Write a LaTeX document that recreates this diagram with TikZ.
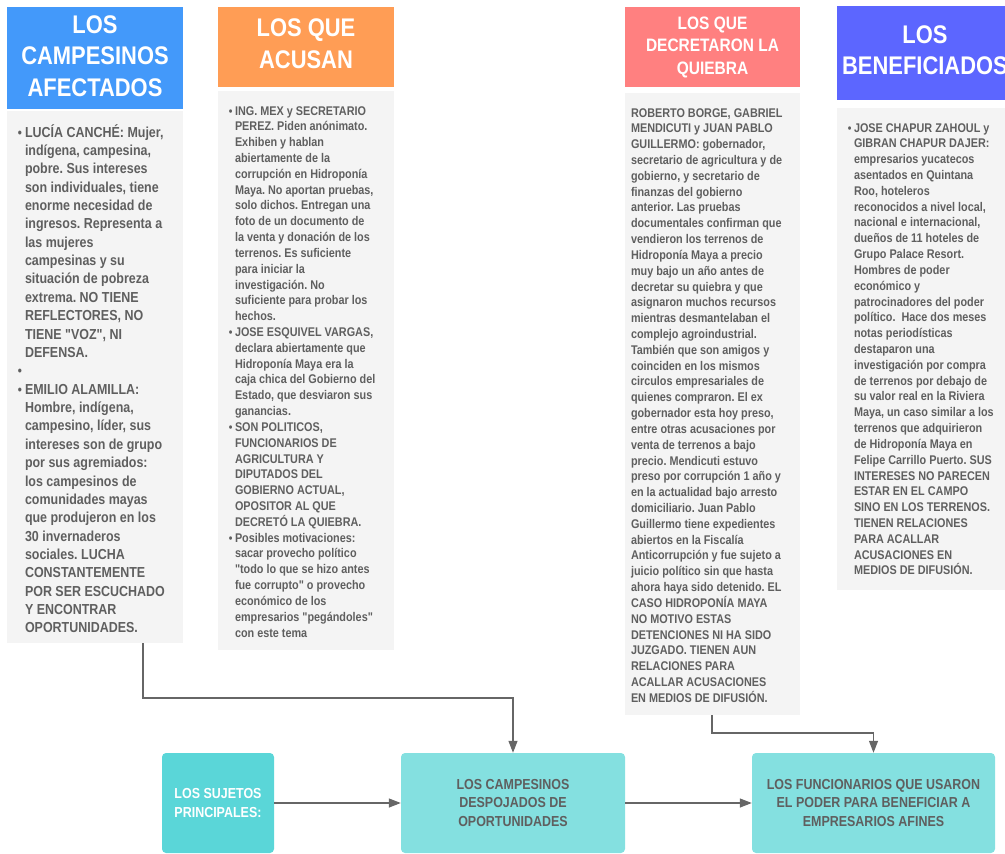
\documentclass[tikz,border=0pt]{standalone}
\usepackage{fontspec}
\setmainfont[FakeStretch=0.86, Ligatures=TeXOff]{Liberation Sans}
\usetikzlibrary{arrows.meta}
\definecolor{hblue}{RGB}{67,153,250}
\definecolor{horange}{RGB}{255,157,85}
\definecolor{hred}{RGB}{255,128,128}
\definecolor{hviolet}{RGB}{92,102,255}
\definecolor{bodyg}{RGB}{244,244,244}
\definecolor{txtg}{RGB}{95,95,95}
\definecolor{tealA}{RGB}{90,214,216}
\definecolor{tealB}{RGB}{132,224,224}
\definecolor{linec}{RGB}{102,102,102}
\frenchspacing
\newcommand{\bulb}{\leavevmode\llap{{\fontsize{13.5}{13.5}\selectfont •}\hspace{3pt}}}
\newcommand{\bul}{\leavevmode\llap{{\fontsize{12}{12}\selectfont •}\hspace{2.5pt}}}
\newcommand{\bigtxt}{\fontsize{14.5}{18.37}\selectfont\bfseries}
\newcommand{\smalltxt}{\fontsize{12.6}{15.82}\selectfont\bfseries}
\tikzset{
  panel/.style={inner sep=0pt, outer sep=0pt, draw=none, anchor=north west},
  txt/.style={inner sep=0pt, outer sep=0pt, anchor=base west, text=txtg},
  htxt/.style={inner sep=0pt, outer sep=0pt, anchor=base, text=white},
  subj/.style={inner sep=0pt, rounded corners=4pt, minimum height=100pt, align=center,
    font=\fontsize{14.5}{18.2}\selectfont\bfseries},
  arr/.style={draw=linec, line width=1.2pt, -{Triangle[length=12pt,width=9pt]}},
}
\begin{document}
\begin{tikzpicture}[x=1pt,y=-1pt]
\useasboundingbox (0,0) rectangle (1005,854);
% column 1
\node[panel, fill=hblue, minimum width=176pt, minimum height=102pt] (h1) at (7,7) {};
\node[panel, fill=bodyg, minimum width=176pt, minimum height=532pt] (b1) at (7,111) {};
\node[htxt] (ht1) at (95,33) {\parbox[t]{200pt}{\centering\fontsize{25.5}{31.5}\selectfont\bfseries LOS\\CAMPESINOS\\AFECTADOS}};
\node[txt] (t1) at (25,137) {\parbox[t]{170pt}{\bigtxt\raggedright
\bulb LUCÍA CANCHÉ: Mujer,\\
indígena, campesina,\\
pobre. Sus intereses\\
son individuales, tiene\\
enorme necesidad de\\
ingresos. Representa a\\
las mujeres\\
campesinas y su\\
situación de pobreza\\
extrema. NO TIENE\\
REFLECTORES, NO\\
TIENE "VOZ", NI\\
DEFENSA.\\
\bulb\\
\bulb EMILIO ALAMILLA:\\
Hombre, indígena,\\
campesino, líder, sus\\
intereses son de grupo\\
por sus agremiados:\\
los campesinos de\\
comunidades mayas\\
que produjeron en los\\
30 invernaderos\\
sociales. LUCHA\\
CONSTANTEMENTE\\
POR SER ESCUCHADO\\
Y ENCONTRAR\\
OPORTUNIDADES.}};
% column 2
\node[panel, fill=horange, minimum width=176pt, minimum height=80pt] (h2) at (218,7) {};
\node[panel, fill=bodyg, minimum width=176pt, minimum height=559pt] (b2) at (218,91) {};
\node[htxt] (ht2) at (306,36) {\parbox[t]{200pt}{\centering\fontsize{25.5}{32}\selectfont\bfseries LOS QUE\\ACUSAN}};
\node[txt] (t2) at (235,115) {\parbox[t]{170pt}{\smalltxt\raggedright
\bul ING. MEX y SECRETARIO\\
PEREZ. Piden anónimato.\\
Exhiben y hablan\\
abiertamente de la\\
corrupción en Hidroponía\\
Maya. No aportan pruebas,\\
solo dichos. Entregan una\\
foto de un documento de\\
la venta y donación de los\\
terrenos. Es suficiente\\
para iniciar la\\
investigación. No\\
suficiente para probar los\\
hechos.\\
\bul JOSE ESQUIVEL VARGAS,\\
declara abiertamente que\\
Hidroponía Maya era la\\
caja chica del Gobierno del\\
Estado, que desviaron sus\\
ganancias.\\
\bul SON POLITICOS,\\
FUNCIONARIOS DE\\
AGRICULTURA Y\\
DIPUTADOS DEL\\
GOBIERNO ACTUAL,\\
OPOSITOR AL QUE\\
DECRETÓ LA QUIEBRA.\\
\bul Posibles motivaciones:\\
sacar provecho político\\
"todo lo que se hizo antes\\
fue corrupto" o provecho\\
económico de los\\
empresarios "pegándoles"\\
con este tema}};
% column 3
\node[panel, fill=hred, minimum width=175pt, minimum height=80pt] (h3) at (625,7) {};
\node[panel, fill=bodyg, minimum width=175pt, minimum height=622pt] (b3) at (625,93) {};
\node[htxt] (ht3) at (712.5,29) {\parbox[t]{200pt}{\centering\fontsize{18}{22.5}\selectfont\bfseries LOS QUE\\DECRETARON LA\\QUIEBRA}};
\node[txt] (t3) at (631,117) {\parbox[t]{170pt}{\smalltxt\raggedright
ROBERTO BORGE, GABRIEL\\
MENDICUTI y JUAN PABLO\\
GUILLERMO: gobernador,\\
secretario de agricultura y de\\
gobierno, y secretario de\\
finanzas del gobierno\\
anterior. Las pruebas\\
documentales confirman que\\
vendieron los terrenos de\\
Hidroponía Maya a precio\\
muy bajo un año antes de\\
decretar su quiebra y que\\
asignaron muchos recursos\\
mientras desmantelaban el\\
complejo agroindustrial.\\
También que son amigos y\\
coinciden en los mismos\\
circulos empresariales de\\
quienes compraron. El ex\\
gobernador esta hoy preso,\\
entre otras acusaciones por\\
venta de terrenos a bajo\\
precio. Mendicuti estuvo\\
preso por corrupción 1 año y\\
en la actualidad bajo arresto\\
domiciliario. Juan Pablo\\
Guillermo tiene expedientes\\
abiertos en la Fiscalía\\
Anticorrupción y fue sujeto a\\
juicio político sin que hasta\\
ahora haya sido detenido. EL\\
CASO HIDROPONÍA MAYA\\
NO MOTIVO ESTAS\\
DETENCIONES NI HA SIDO\\
JUZGADO. TIENEN AUN\\
RELACIONES PARA\\
ACALLAR ACUSACIONES\\
EN MEDIOS DE DIFUSIÓN.}};
% column 4
\node[panel, fill=hviolet, minimum width=176pt, minimum height=94pt] (h4) at (837,6) {};
\node[panel, fill=bodyg, minimum width=176pt, minimum height=482pt] (b4) at (837,108) {};
\node[htxt] (ht4) at (925,43) {\parbox[t]{200pt}{\centering\fontsize{25.5}{31}\selectfont\bfseries LOS\\BENEFICIADOS}};
\node[txt] (t4) at (854,132) {\parbox[t]{170pt}{\smalltxt\raggedright
\bul JOSE CHAPUR ZAHOUL y\\
GIBRAN CHAPUR DAJER:\\
empresarios yucatecos\\
asentados en Quintana\\
Roo, hoteleros\\
reconocidos a nivel local,\\
nacional e internacional,\\
dueños de 11 hoteles de\\
Grupo Palace Resort.\\
Hombres de poder\\
económico y\\
patrocinadores del poder\\
político.\ \ Hace dos meses\\
notas periodísticas\\
destaparon una\\
investigación por compra\\
de terrenos por debajo de\\
su valor real en la Riviera\\
Maya, un caso similar a los\\
terrenos que adquirieron\\
de Hidroponía Maya en\\
Felipe Carrillo Puerto. SUS\\
INTERESES NO PARECEN\\
ESTAR EN EL CAMPO\\
SINO EN LOS TERRENOS.\\
TIENEN RELACIONES\\
PARA ACALLAR\\
ACUSACIONES EN\\
MEDIOS DE DIFUSIÓN.}};
% bottom boxes
\node[subj, fill=tealA, text=white, minimum width=112pt] (A) at (218,803) {LOS SUJETOS\\PRINCIPALES:};
\node[subj, fill=tealB, text=txtg, minimum width=224pt] (B) at (513,803) {LOS CAMPESINOS\\DESPOJADOS DE\\OPORTUNIDADES};
\node[subj, fill=tealB, text=txtg, minimum width=243pt] (C) at (873.5,803) {LOS FUNCIONARIOS QUE USARON\\EL PODER PARA BENEFICIAR A\\EMPRESARIOS AFINES};
% connectors
\coordinate (s1) at (143,643);
\coordinate (s3) at (712,715);
\draw[arr] (A) -- (B);
\draw[arr] (B) -- (C);
\draw[arr] (s1) -- ++(0,55) -| (B.north);
\draw[arr] (s3) -- ++(0,18) -| (C.north);
\end{tikzpicture}
\end{document}
